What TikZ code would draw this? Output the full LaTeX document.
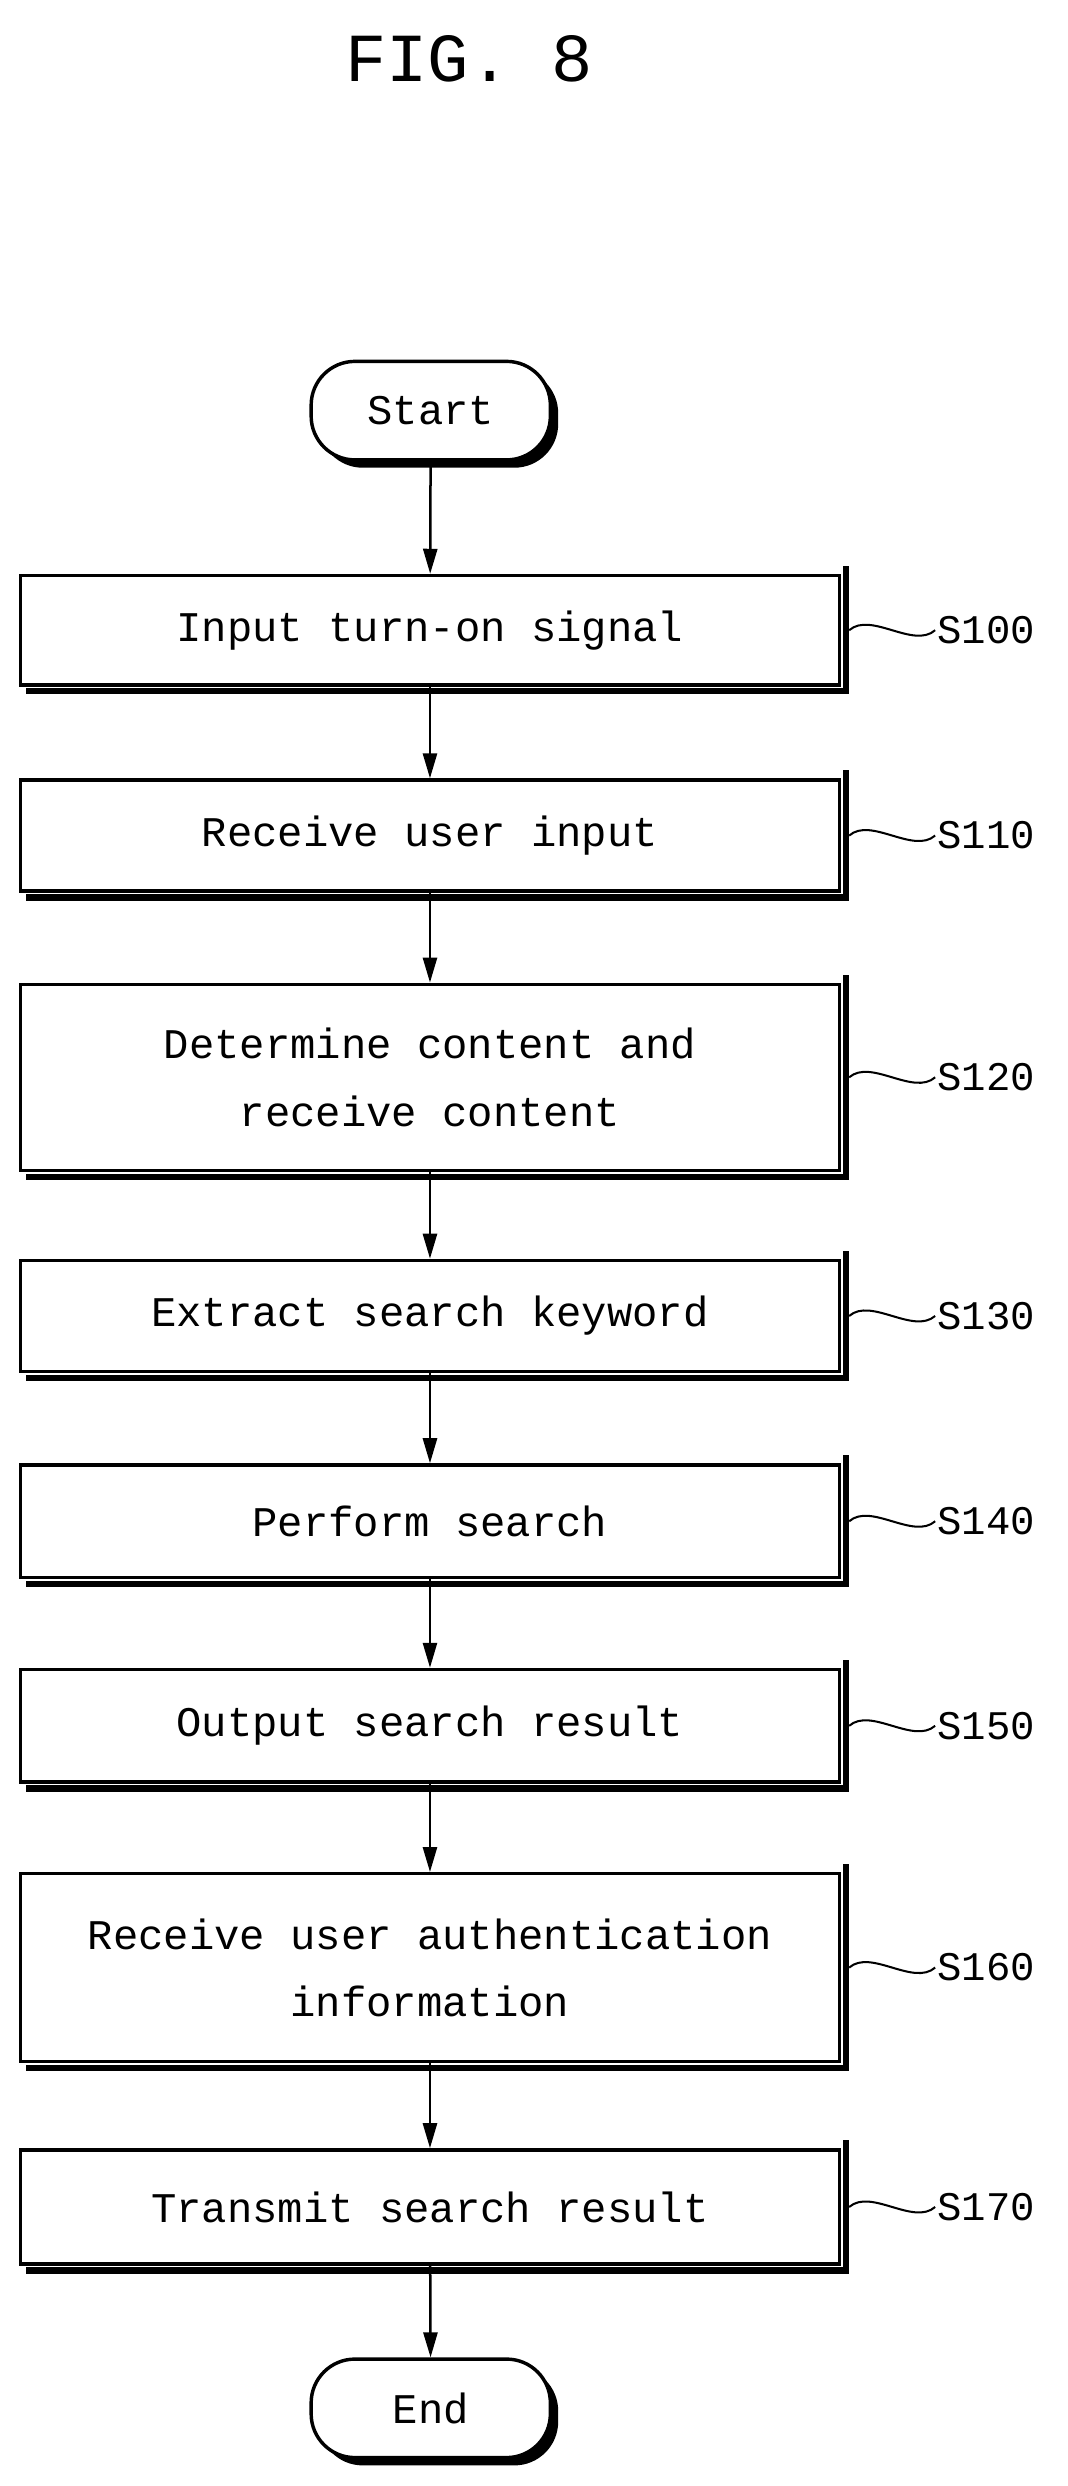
\documentclass[tikz,border=0pt]{standalone}
\usepackage{fontspec}
\setmainfont{Liberation Mono}
\usetikzlibrary{positioning,arrows.meta}
\tikzset{
  proc/.style={draw=black, line width=2.2pt, fill=white, minimum width=524pt, align=center,
    font=\fontsize{27}{43}\selectfont},
  term/.style={draw=black, line width=2.2pt, fill=white, rounded corners=28pt, minimum width=153pt,
    minimum height=63pt, font=\fontsize{27}{32}\selectfont},
  shadow/.style={fill=black},
  flow/.style={line width=1.6pt, -{Triangle[length=16pt,width=9pt]}},
  tag/.style={font=\fontsize{26}{30}\selectfont, anchor=west}
}
\begin{document}
\begin{tikzpicture}[x=1pt,y=-1.014pt]
\useasboundingbox (0,0) rectangle (683,1568);
\node[font=\fontsize{44}{50}\selectfont] (title) at (300,37) {FIG. 8};

\fill[shadow, rounded corners=28pt] (204,233) rectangle (357,295);
\node[term] (start) at (275.5,259) {Start};

\node[proc, minimum height=70pt] (s100) at (275,397.5) {Input turn-on signal};
\node[proc, minimum height=71pt] (s110) at (275,527) {Receive user input};
\node[proc, minimum height=119pt] (s120) at (275,679.5) {Determine content and\\receive content};
\node[proc, minimum height=71pt] (s130) at (275,830) {Extract search keyword};
\node[proc, minimum height=72pt] (s140) at (275,959.5) {Perform search};
\node[proc, minimum height=72pt] (s150) at (275,1088.5) {Output search result};
\node[proc, minimum height=120pt] (s160) at (275,1241) {Receive user authentication\\information};
\node[proc, minimum height=73pt] (s170) at (275,1392) {Transmit search result};

\fill[shadow, rounded corners=28pt] (204,1493) rectangle (357,1555);
\node[term] (end) at (275.5,1519) {End};

% shadow edges and step labels
\foreach \s/\t in {s100/S100,s110/S110,s120/S120,s130/S130,s140/S140,s150/S150,s160/S160,s170/S170}{
  \fill[shadow] ([xshift=5pt,yshift=-1pt]\s.south west) rectangle ([xshift=5pt,yshift=-5pt]\s.south east);
  \fill[shadow] ([xshift=1pt,yshift=5pt]\s.north east) rectangle ([xshift=5pt,yshift=-5pt]\s.south east);
  \node[tag] (l\s) at ([xshift=58pt]\s.east) {\t};
  \draw[line width=1.3pt] ([xshift=5pt]\s.east) .. controls +(14,-12) and +(-14,12) .. ([xshift=2pt]l\s.west);
}

\draw[flow] (start) -- (s100);
\draw[flow] (s100) -- (s110);
\draw[flow] (s110) -- (s120);
\draw[flow] (s120) -- (s130);
\draw[flow] (s130) -- (s140);
\draw[flow] (s140) -- (s150);
\draw[flow] (s150) -- (s160);
\draw[flow] (s160) -- (s170);
\draw[flow] (s170) -- (end);
\end{tikzpicture}
\end{document}
